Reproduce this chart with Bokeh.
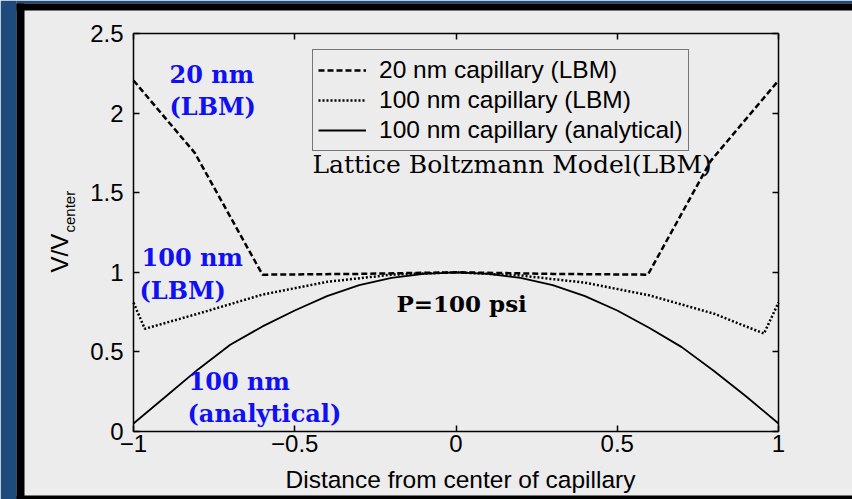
import numpy as np
from bokeh.plotting import figure
from bokeh.models import (Range1d, LinearAxis, Label, BoxAnnotation, Legend,
                          LegendItem, FixedTicker)
from bokeh.embed import file_html
from bokeh.resources import INLINE

# ---- data ----
x_20nm = [-1.0, -0.81, -0.6, -0.3, 0.0, 0.3, 0.595, 0.79, 1.0]
v_20nm = [2.205, 1.75, 0.985, 0.99, 1.0, 0.99, 0.985, 1.70, 2.205]

x_100nm = [-1.0, -0.965, -0.8, -0.6, -0.4, -0.2, 0.0, 0.2, 0.4, 0.6, 0.8, 0.955, 1.0]
v_100nm = [0.81, 0.645, 0.74, 0.86, 0.94, 0.985, 1.0, 0.98, 0.935, 0.855, 0.74, 0.615, 0.81]

x_analytical = [-1.0, -0.9, -0.8, -0.7, -0.6, -0.5, -0.4, -0.3, -0.2, -0.1, 0.0,
                0.1, 0.2, 0.3, 0.4, 0.5, 0.6, 0.7, 0.8, 0.9, 1.0]
v_analytical = [0.05, 0.22, 0.39, 0.545, 0.66, 0.76, 0.85, 0.92, 0.965, 0.99, 1.0,
                0.99, 0.965, 0.92, 0.85, 0.76, 0.65, 0.53, 0.38, 0.22, 0.05]

x_ticks = [-1, -0.5, 0, 0.5, 1]
x_tick_labels = {-1: "\u22121", -0.5: "\u22120.5", 0: "0", 0.5: "0.5", 1: "1"}
y_ticks = [0, 0.5, 1, 1.5, 2, 2.5]
y_tick_labels = {0: "0", 0.5: "0.5", 1: "1", 1.5: "1.5", 2: "2", 2.5: "2.5"}

legend_labels = ["20 nm capillary (LBM)", "100 nm capillary (LBM)",
                 "100 nm capillary (analytical)"]

# ---- layout constants (pixels of the picture) ----
W, H = 852, 499
PL, PT, PR, PB = 133, 33, 778, 431   # axes box
NAVY = "#1f4a7c"
PANEL = "#ececec"
BLUE = "#1010f2"
SANS = "Liberation Sans"
SERIF = "DejaVu Serif"
BASE_FIX = 0.38   # baseline correction (em)


def X(px):  # pixel -> data x
    return -1 + (px - PL) * 2.0 / (PR - PL)


def Y(py):  # pixel -> data y
    return (PB - py) * 2.5 / (PB - PT)


p = figure(width=W, height=H, x_range=Range1d(X(0), X(W)), y_range=Range1d(Y(H), Y(0)),
           output_backend="svg", toolbar_location=None,
           x_axis_location=None, y_axis_location=None, min_border=0)
p.background_fill_color = PANEL
p.border_fill_color = PANEL
p.grid.visible = False
p.outline_line_color = None

# ---- slide frame decorations ----
p.add_layout(BoxAnnotation(left=X(0), right=X(16), bottom=Y(H), top=Y(0),
                           fill_color=NAVY, fill_alpha=1, line_color=None))
p.add_layout(BoxAnnotation(left=X(16), right=X(W), bottom=Y(3), top=Y(0),
                           fill_color=NAVY, fill_alpha=1, line_color=None))
p.add_layout(BoxAnnotation(left=X(16), right=X(24), bottom=Y(H), top=Y(3),
                           fill_color="black", fill_alpha=1, line_color=None))
p.add_layout(BoxAnnotation(left=X(16), right=X(W), bottom=Y(10), top=Y(3),
                           fill_color="black", fill_alpha=1, line_color=None))
p.add_layout(BoxAnnotation(left=X(16), right=X(W), bottom=Y(H), top=Y(495),
                           fill_color="black", fill_alpha=1, line_color=None))


def make_axis(ticks, fixed, bounds, labels=None):
    ax = LinearAxis(fixed_location=fixed, bounds=bounds)
    ax.ticker = FixedTicker(ticks=ticks)
    ax.major_tick_in = 6
    ax.major_tick_out = 0
    ax.minor_tick_in = 0
    ax.minor_tick_out = 0
    ax.axis_line_color = "black"
    ax.axis_line_width = 1.5
    ax.major_tick_line_color = "black"
    ax.major_tick_line_width = 1.5
    if labels is None:
        ax.major_label_text_font_size = "0px"
        ax.major_label_text_alpha = 0
    else:
        ax.major_label_overrides = labels
        ax.major_label_text_font = SANS
        ax.major_label_text_font_size = "24px"
        ax.major_label_text_color = "black"
    return ax


xax = make_axis(x_ticks, 0, (-1, 1), x_tick_labels)
xax.major_label_standoff = 3
p.add_layout(xax, "below")
yax = make_axis(y_ticks, -1, (0, 2.5), y_tick_labels)
yax.major_label_standoff = 10
p.add_layout(yax, "left")
p.add_layout(make_axis(y_ticks, 1, (0, 2.5)), "right")
p.add_layout(make_axis(x_ticks, 2.5, (-1, 1)), "above")

# ---- curves ----
r20 = p.line(x_20nm, v_20nm, line_color="black", line_width=2.5, line_dash="6 3")
r100 = p.line(x_100nm, v_100nm, line_color="black", line_width=2.5, line_dash="2 2")
ran = p.line(x_analytical, v_analytical, line_color="black", line_width=1.8)

legend = Legend(items=[LegendItem(label=legend_labels[0], renderers=[r20]),
                       LegendItem(label=legend_labels[1], renderers=[r100]),
                       LegendItem(label=legend_labels[2], renderers=[ran])],
                location=(312, H - 151))
legend.margin = 0
legend.padding = 5
legend.spacing = 0
legend.glyph_width = 48
legend.glyph_height = 30
legend.label_height = 30
legend.label_standoff = 13
legend.label_text_font = SANS
legend.label_text_font_size = "24.5px"
legend.label_text_color = "black"
legend.border_line_color = "black"
legend.border_line_width = 1.5
legend.background_fill_color = PANEL
legend.background_fill_alpha = 1
p.add_layout(legend)


# ---- text annotations ----
def add_text(txt, px, py, size, font=SERIF, style="normal", color="black",
             align="left", angle=0):
    if angle:
        x, y = X(px - BASE_FIX * size), Y(py)
    else:
        x, y = X(px), Y(py - BASE_FIX * size)
    p.add_layout(Label(x=x, y=y, text=txt, text_font=font,
                       text_font_size=f"{size}px", text_font_style=style,
                       text_color=color, text_align=align,
                       text_baseline="alphabetic", angle=angle))


add_text("20 nm", 169, 83, 24, style="bold", color=BLUE)
add_text("(LBM)", 169, 115, 24, style="bold", color=BLUE)
add_text("100 nm", 141, 266, 24, style="bold", color=BLUE)
add_text("(LBM)", 139, 299, 24, style="bold", color=BLUE)
add_text("100 nm", 188, 390, 24, style="bold", color=BLUE)
add_text("(analytical)", 187, 422, 24, style="bold", color=BLUE)
add_text("P=100 psi", 396, 312, 23, style="bold")
add_text("Lattice Boltzmann Model(LBM)", 312, 173, 25)

# axis labels
add_text("Distance from center of capillary", 460, 488, 24.5, font=SANS, align="center")
add_text("V/V", 68, 272, 24, font=SANS, angle=np.pi / 2)
add_text("center", 75, 232, 15, font=SANS, angle=np.pi / 2)

open("out.html", "w").write(file_html(p, INLINE))
